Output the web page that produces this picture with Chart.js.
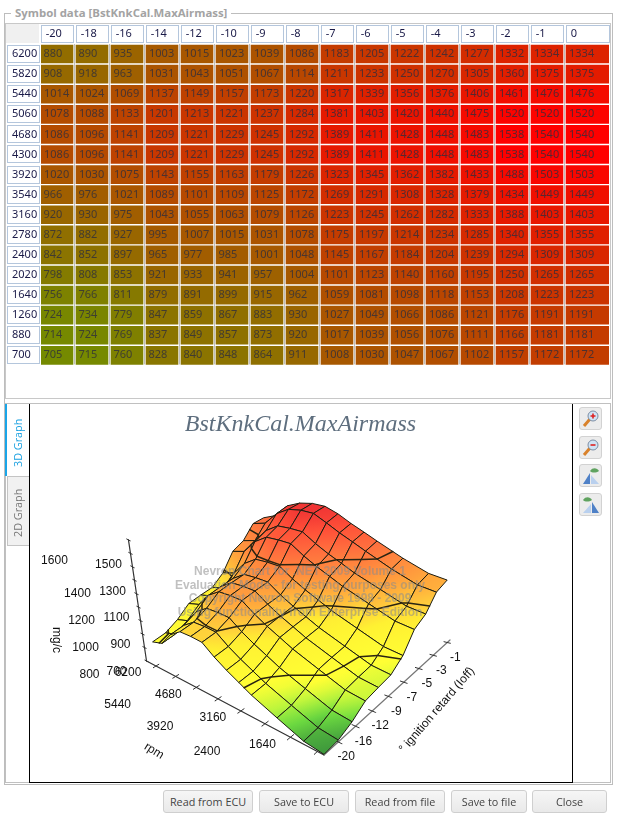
<!DOCTYPE html>
<html><head><meta charset="utf-8">
<script src="https://cdn.jsdelivr.net/npm/chart.js@4"></script>
<style>
html,body{margin:0;padding:0;background:#fff;overflow:hidden}
body{width:617px;height:819px;position:relative;font-family:"Noto Sans",sans-serif}
.a{position:absolute;box-sizing:border-box}
canvas{position:absolute;display:block}
.btn{position:absolute;top:790px;height:23px;box-sizing:border-box;border:1px solid #cfcfcf;border-radius:3px;background:linear-gradient(#f6f6f6,#e9e9e9);color:#444;font:10.8px "Open Sans",sans-serif;text-align:center;line-height:21px}
.ico{position:absolute;left:579px;width:23px;height:23px;box-sizing:border-box;border:1px solid #d2d2d2;border-radius:3px;background:#ececec}
.ico svg{position:absolute;left:0;top:0}
</style></head><body>
<div class="a" style="left:4px;top:13px;width:609px;height:772px;border:1px solid #bdbdbd"></div>
<div class="a" style="left:11px;top:5px;height:16px;padding:0 4px;background:#fff;color:#a3a3a3;font:bold 11.4px 'Open Sans',sans-serif;line-height:16px;white-space:nowrap">Symbol data [BstKnkCal.MaxAirmass]</div>
<div class="a" style="left:5px;top:23px;width:606px;height:376px;border:1px solid #c8c8c8"></div>
<div class="a" style="left:5px;top:403px;width:606px;height:380px;border:1px solid #c0c0c0"></div>
<canvas id="tableChart" width="612" height="351" style="left:0;top:24px"></canvas>
<canvas id="surfaceChart" width="543" height="378" style="left:29px;top:404px"></canvas>
<div class="a" style="left:29px;top:404px;width:1px;height:379px;background:#000"></div>
<div class="a" style="left:572px;top:404px;width:1px;height:379px;background:#000"></div>
<div class="a" style="left:29px;top:782px;width:544px;height:1px;background:#000"></div>
<div class="a" style="left:7px;top:476px;width:22px;height:70px;background:#f1f1f1;border:1px solid #c4c4c4;border-right:none"></div>
<div class="a" style="left:5px;top:404px;width:2px;height:72px;background:#19a5e8"></div>
<div class="a" style="left:7px;top:407px;width:22px;height:72px;color:#19a0e0;font:10.8px 'Open Sans',sans-serif;writing-mode:vertical-rl;transform:rotate(180deg);text-align:center;line-height:22px">3D Graph</div>
<div class="a" style="left:7px;top:478px;width:22px;height:70px;color:#777;font:10.8px 'Open Sans',sans-serif;writing-mode:vertical-rl;transform:rotate(180deg);text-align:center;line-height:22px">2D Graph</div>
<div class="ico" style="top:407px"><svg width="21" height="21"><line x1="4" y1="18" x2="10" y2="11" stroke="#d9822b" stroke-width="3"/><circle cx="13" cy="8" r="5" fill="#cfe3f5" stroke="#7d8ea5"/><path d="M10.5 8h5M13 5.500v5" stroke="#d22" stroke-width="1.600"/></svg></div>
<div class="ico" style="top:436px"><svg width="21" height="21"><line x1="4" y1="18" x2="10" y2="11" stroke="#d9822b" stroke-width="3"/><circle cx="13" cy="8" r="5" fill="#cfe3f5" stroke="#7d8ea5"/><path d="M10.5 8h5" stroke="#d22" stroke-width="1.600"/></svg></div>
<div class="ico" style="top:464px"><svg width="21" height="21"><path d="M3 19L10 8v11z" fill="#4f81c7"/><path d="M11 10l8 9h-8z" fill="#b9d0ee"/><path d="M10 6c3-4 7-3 9 0-3 2-7 2-9 0z" fill="#5fa35f"/></svg></div>
<div class="ico" style="top:493px"><svg width="21" height="21"><path d="M3 19l8-9v9z" fill="#b9d0ee"/><path d="M12 8l7 11h-7z" fill="#4f81c7"/><path d="M3 6c3-4 7-3 9 0-3 2-7 2-9 0z" fill="#5fa35f"/></svg></div>
<div class="btn" style="left:163px;width:90px">Read from ECU</div>
<div class="btn" style="left:259px;width:90px">Save to ECU</div>
<div class="btn" style="left:355px;width:90px">Read from file</div>
<div class="btn" style="left:451px;width:76px">Save to file</div>
<div class="btn" style="left:532px;width:75px">Close</div>
<script>
const retardLabels = ["-20","-18","-16","-14","-12","-10","-9","-8","-7","-6","-5","-4","-3","-2","-1","0"];
const rpmLabels = ["6200","5820","5440","5060","4680","4300","3920","3540","3160","2780","2400","2020","1640","1260","880","700"];
const values6200 = [880,890,935,1003,1015,1023,1039,1086,1183,1205,1222,1242,1277,1332,1334,1334];
const values5820 = [908,918,963,1031,1043,1051,1067,1114,1211,1233,1250,1270,1305,1360,1375,1375];
const values5440 = [1014,1024,1069,1137,1149,1157,1173,1220,1317,1339,1356,1376,1406,1461,1476,1476];
const values5060 = [1078,1088,1133,1201,1213,1221,1237,1284,1381,1403,1420,1440,1475,1520,1520,1520];
const values4680 = [1086,1096,1141,1209,1221,1229,1245,1292,1389,1411,1428,1448,1483,1538,1540,1540];
const values4300 = [1086,1096,1141,1209,1221,1229,1245,1292,1389,1411,1428,1448,1483,1538,1540,1540];
const values3920 = [1020,1030,1075,1143,1155,1163,1179,1226,1323,1345,1362,1382,1433,1488,1503,1503];
const values3540 = [966,976,1021,1089,1101,1109,1125,1172,1269,1291,1308,1328,1379,1434,1449,1449];
const values3160 = [920,930,975,1043,1055,1063,1079,1126,1223,1245,1262,1282,1333,1388,1403,1403];
const values2780 = [872,882,927,995,1007,1015,1031,1078,1175,1197,1214,1234,1285,1340,1355,1355];
const values2400 = [842,852,897,965,977,985,1001,1048,1145,1167,1184,1204,1239,1294,1309,1309];
const values2020 = [798,808,853,921,933,941,957,1004,1101,1123,1140,1160,1195,1250,1265,1265];
const values1640 = [756,766,811,879,891,899,915,962,1059,1081,1098,1118,1153,1208,1223,1223];
const values1260 = [724,734,779,847,859,867,883,930,1027,1049,1066,1086,1121,1176,1191,1191];
const values880  = [714,724,769,837,849,857,873,920,1017,1039,1056,1076,1111,1166,1181,1181];
const values700  = [705,715,760,828,840,848,864,911,1008,1030,1047,1067,1102,1157,1172,1172];
const tableRows = [values6200,values5820,values5440,values5060,values4680,values4300,values3920,values3540,values3160,values2780,values2400,values2020,values1640,values1260,values880,values700];
// rows and columns that the 3D mesh shows
const meshRpm = ["700","1260","2020","2780","3160","3540","3920","4300","4680","5060","5440","5820","6200"];
const meshRetard = ["-20","-18","-16","-14","-12","-10","-8","-6","-4","-2","0"];
const contourLevels = [900,1100,1300];
const mgcTicks = [700,800,900,1000,1100,1200,1300,1400,1500,1600];
const rpmTicks = [6200,5440,4680,3920,3160,2400,1640,880];
const rpmTickLabels = ["6200","5440","4680","3920","3160","2400","1640"];
const retardTicks = ["-20","-16","-12","-9","-7","-5","-3","-1"];
const watermark = ["Nevron Chart for .NET 2009 Volume 1","Evaluation Mode - for testing purposes only","Copyright Nevron Software 1998 - 2009","Using functionality from Enterprise Edition"];

// ---------- table chart ----------
const maxVal = 1540;
const cellColor = v => { const r = Math.round(255*v/maxVal); return `rgb(${r},${255-r},0)`; };
const lastColSpan = 43/35, colSpan = 32/35, xMax = 15 + lastColSpan;
const tableDatasets = retardLabels.map((lab,c)=>({
  label: lab,
  data: tableRows.map(r=>[c, c + (c===15 ? lastColSpan : colSpan)]),
  backgroundColor: tableRows.map(r=>cellColor(r[c])),
  borderWidth: 0, barThickness: 18, grouped:false
}));
const tableFont = {family:'"Noto Sans"',size:11};
const tablePlugin = {
  id:'tableDecor',
  beforeDraw(chart){
    const {ctx,scales:{x,y}} = chart;
    ctx.save();
    const top = chart.chartArea.top, bottom = chart.chartArea.bottom;
    ctx.fillStyle='#f0f0f0'; ctx.fillRect(6,0,33,19);
    ctx.strokeStyle='#b4c6dc'; ctx.lineWidth=1;
    retardLabels.forEach((l,c)=>{
      const l0=Math.round(x.getPixelForValue(c)), r0=Math.round(x.getPixelForValue(c+(c===15?lastColSpan:colSpan)));
      ctx.strokeRect(l0+.5,1.5,r0-l0,17);
      if(c<15){ctx.save();ctx.strokeStyle='#bdbdbd';const gx=r0+1.5;ctx.beginPath();ctx.moveTo(gx,top);ctx.lineTo(gx,bottom-1);ctx.stroke();ctx.restore();}
    });
    rpmLabels.forEach((l,i)=>{
      const py=y.getPixelForValue(i);
      ctx.strokeRect(7.5,Math.round(py-9)+.5,32,17);
    });
    ctx.restore();
  },
  afterDatasetsDraw(chart){
    const {ctx,scales:{x,y}} = chart;
    ctx.save();
    ctx.font='11px "Noto Sans"'; ctx.fillStyle='rgba(45,45,60,.78)'; ctx.textBaseline='middle'; ctx.textAlign='left';
    tableRows.forEach((row,i)=>row.forEach((v,c)=>{
      ctx.fillText(String(v), x.getPixelForValue(c)+(v>=1000?3:2.5), y.getPixelForValue(i));
    }));
    ctx.restore();
  }
};
new Chart(document.getElementById('tableChart'),{
  type:'bar',
  data:{labels:rpmLabels,datasets:tableDatasets},
  plugins:[tablePlugin],
  options:{
    indexAxis:'y',responsive:false,animation:false,devicePixelRatio:1,events:[],
    layout:{autoPadding:false,padding:{left:12,right:3,top:0,bottom:0}},
    plugins:{legend:{display:false},tooltip:{enabled:false},title:{display:false}},
    scales:{
      x:{type:'linear',position:'top',min:0,max:xMax,
        grid:{display:false,drawTicks:false},border:{display:false},
        afterBuildTicks:s=>{s.ticks=retardLabels.map((l,c)=>({value:c+.135}));},
        afterFit:s=>{s.height=20;},
        ticks:{autoSkip:false,maxRotation:0,align:'start',padding:4,color:'#1a1a48',font:tableFont,
          callback:v=>retardLabels[Math.floor(v)]}},
      y:{type:'category',
        grid:{display:false,drawTicks:false},border:{display:false},
        afterFit:s=>{s.width=29;},
        ticks:{autoSkip:false,crossAlign:'far',color:'#1a1a48',font:tableFont}}
    }
  }
});

// ---------- 3D surface chart ----------
// screen-space projection of the floor (u: rpm, v: retard): bilinear between four corners, mild perspective warp
const floorCorners = [[324,755],[156,666],[270,597],[450,640]];
const upVectors = [[0,-.125],[-.019,-.134],[-.01,-.125],[-.006,-.127]];
const warpU = .21, warpV = .15;
const zBase = 700, rpmLo = 700, rpmHi = 6200, retLo = -20, retHi = 0;
const plotLeft = 29, plotTop = 404;
function projUV(u0,v0,z){
  const kv=warpV, v=v0*(1+kv)/(1+kv*v0);
  const ku=warpU*(1-v0), u=u0*(1+ku)/(1+ku*u0);
  const mix=a=>k=>a[0][k]*(1-u)*(1-v)+a[1][k]*u*(1-v)+a[2][k]*u*v+a[3][k]*(1-u)*v;
  const f=mix(floorCorners), up=mix(upVectors);
  const d=z-zBase;
  return {x:f(0)+up(0)*d,y:f(1)+up(1)*d};
}
const uOf = rpm=>(rpm-rpmLo)/(rpmHi-rpmLo), vOf = ret=>(ret-retLo)/(retHi-retLo);
const colorStops = [[705,[60,150,60]],[770,[110,220,64]],[820,[190,245,60]],[880,[255,255,52]],[1040,[255,240,50]],[1100,[255,205,60]],[1170,[255,172,60]],[1250,[255,142,62]],[1350,[255,112,62]],[1450,[255,80,56]],[1540,[240,52,52]]];
function surfColor(v){
  for(let i=1;i<colorStops.length;i++){
    if(v<=colorStops[i][0]){const [a,ca]=colorStops[i-1],[b,cb]=colorStops[i];const t=Math.max(0,(v-a)/(b-a));
      return `rgb(${ca.map((c,k)=>Math.round(c+(cb[k]-c)*t)).join(',')})`;}
  }
  return 'rgb(240,52,52)';
}
const backFace = '#eeee3c';
const meshRows = meshRpm.map(r=>tableRows[rpmLabels.indexOf(r)]);
const meshColIdx = meshRetard.map(c=>retardLabels.indexOf(c));
const corner=(ri,ci)=>{const z=meshRows[ri][meshColIdx[ci]],u=uOf(+meshRpm[ri]),v=vOf(+meshRetard[ci]);return {u,v,z,...projUV(u,v,z)};};
const lineSet = (pts,color,width)=>({data:pts.map(p=>({x:p.x,y:p.y})),borderColor:color,borderWidth:width,fill:false,pointRadius:0,tension:0,borderCapStyle:'round'});

const draws = []; // far to near
// axes
const axisColor='#333', axis2='#777';
const uEnd = uOf(6580);
const p0 = projUV(0,0,zBase), pEnd = projUV(uEnd,0,zBase), pRet = projUV(0,1,zBase), pTop = projUV(uEnd,0,1600);
draws.push(lineSet([pEnd,p0],axisColor,1.2));
draws.push(lineSet([p0,pRet],axis2,1.2));
draws.push(lineSet([pEnd,pTop],axisColor,1.2));
rpmTicks.forEach(r=>{const u=uOf(r);draws.push(lineSet([projUV(u,-.022,zBase),projUV(u,.022,zBase)],axisColor,1));});
retardTicks.forEach((r,k)=>{const v=(k+.8)/8;draws.push(lineSet([projUV(-.018,v,zBase),projUV(.018,v,zBase)],axisColor,1));});
mgcTicks.forEach(z=>{draws.push(lineSet([projUV(uEnd-.012,0,z),projUV(uEnd+.012,0,z)],axisColor,1));});

// surface quads, far to near
for(let ri=meshRows.length-2;ri>=0;ri--){
  for(let ci=meshRetard.length-2;ci>=0;ci--){
    const q=[corner(ri,ci),corner(ri+1,ci),corner(ri+1,ci+1),corner(ri,ci+1)];
    // orientation on screen: negative area means we look at the underside
    let area=0;q.forEach((p,i)=>{const n=q[(i+1)%4];area+=p.x*n.y-n.x*p.y;});
    const back = area<0;
    const lo=q.reduce((a,b)=>b.z<a.z?b:a), hi=q.reduce((a,b)=>b.z>a.z?b:a);
    draws.push({
      data:[...q,q[0]].map(p=>({x:p.x,y:p.y})),
      fill:'shape',tension:0,pointRadius:0,borderColor:'#1c1c10',borderWidth:1,
      backgroundColor:c=>{
        if(back) return backFace;
        if(hi.z===lo.z) return surfColor(lo.z);
        const g=c.chart.ctx.createLinearGradient(lo.x-plotLeft,lo.y-plotTop,hi.x-plotLeft,hi.y-plotTop);
        for(let t=0;t<=1.0001;t+=.25) g.addColorStop(Math.min(t,1),surfColor(lo.z+(hi.z-lo.z)*t));
        return g;
      }
    });
    // contour segments crossing this quad
    contourLevels.forEach(L=>{
      const cross=[];
      q.forEach((p,i)=>{const n=q[(i+1)%4];
        if((p.z<L)!==(n.z<L)){const t=(L-p.z)/(n.z-p.z);cross.push(projUV(p.u+(n.u-p.u)*t,p.v+(n.v-p.v)*t,L));}});
      if(cross.length>=2) draws.push(lineSet(cross.slice(0,2),'#2a2412',1.5));
    });
  }
}
const textFont='12px "Liberation Sans"';
const surfacePlugin = {
  id:'surfaceText',
  afterDatasetsDraw(chart){
    const {ctx,scales:{x,y}}=chart;
    const put=(t,px,py,rot=0)=>{ctx.save();ctx.translate(x.getPixelForValue(px),y.getPixelForValue(py));ctx.rotate(rot);ctx.fillText(t,0,0);ctx.restore();};
    ctx.save();
    ctx.fillStyle='#111';ctx.font=textFont;ctx.textAlign='center';ctx.textBaseline='middle';
    mgcTicks.forEach((z,i)=>{
      const p=projUV(uEnd,0,z);
      const off = z===1600?[-74,21]:(z===700?[-30,11]:(i%2?[-55,27]:[-22,11]));
      put(String(z),p.x+off[0],p.y+off[1]);
    });
    rpmTickLabels.forEach((r,i)=>{
      const p=projUV(uOf(+r),0,zBase);
      const off = i%2?[-58,28]:[-28,7];
      put(r,p.x+off[0],p.y+off[1]);
    });
    retardTicks.forEach((r,k)=>{
      const p=projUV(0,(k+.8)/8,zBase);
      put(r,p.x+8,p.y+15);
    });
    put('mg/c',56,640,Math.PI/2);
    put('rpm',154,751,.55);
    put('\u00b0 ignition retard (Ioff)',437,710,-.86);
    ctx.restore();
  },
  afterDraw(chart){
    const {ctx,scales:{x,y}}=chart;
    ctx.save();
    ctx.font='bold 12px "Liberation Sans"';ctx.fillStyle='rgba(140,140,140,.55)';ctx.textAlign='center';ctx.textBaseline='middle';
    watermark.forEach((t,i)=>ctx.fillText(t,x.getPixelForValue(300),y.getPixelForValue(572+i*13.4)));
    ctx.restore();
  }
};
const titleSize=24, titleLine=1.2, titlePadTop=6, titlePadBottom=0;
const titleHeight=titleSize*titleLine+titlePadTop+titlePadBottom;
new Chart(document.getElementById('surfaceChart'),{
  type:'line',
  data:{datasets:draws.reverse()},
  plugins:[surfacePlugin],
  options:{
    responsive:false,animation:false,devicePixelRatio:1,events:[],
    layout:{autoPadding:false,padding:0},
    plugins:{legend:{display:false},tooltip:{enabled:false},
      title:{display:true,text:'BstKnkCal.MaxAirmass',color:'#5e6e7e',
        font:{family:'"Liberation Serif"',style:'italic',weight:'normal',size:titleSize,lineHeight:titleLine},
        padding:{top:titlePadTop,bottom:titlePadBottom}}},
    scales:{
      x:{type:'linear',display:false,min:29,max:572},
      y:{type:'linear',display:false,reverse:true,min:404+titleHeight,max:782}
    }
  }
});
</script>
</body></html>
